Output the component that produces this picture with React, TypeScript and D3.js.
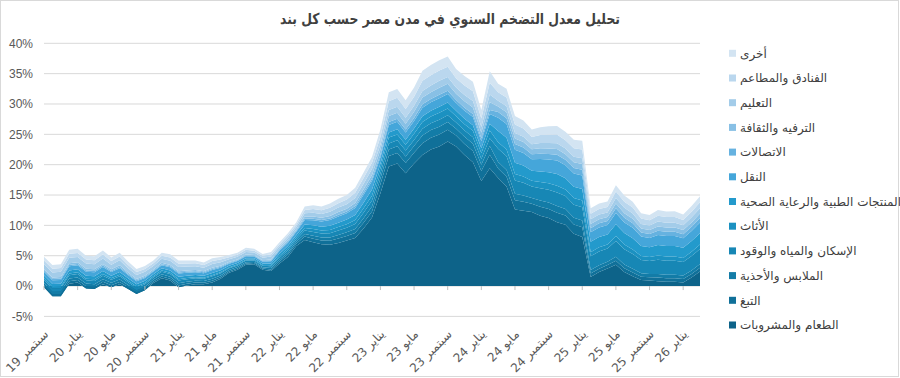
import React from "react";
import * as d3 from "d3";

// Sep 2019 .. Mar 2026, monthly contributions (percentage points)
const food = [-0.2,-1.7,-1.7,0.4,0.6,-0.4,-0.5,0.3,-0.2,0.3,
  -0.5,-1.3,-0.7,0.5,1.3,0.9,-0.2,0.1,0.3,0.3,
  0.6,1.2,2.2,2.7,3.5,3.6,2.7,2.5,3.7,4.8,
  6.6,7.6,7.2,6.9,6.8,7.1,7.5,7.9,9.5,11.3,
  15.3,19.7,20.2,18.6,20.2,21.6,22.5,23.0,23.8,23.0,
  21.6,20.4,17.3,19.4,17.8,16.4,12.6,12.4,12.2,11.6,
  11.2,10.5,10.1,8.6,8.1,1.5,2.3,2.9,3.5,2.3,
  1.6,1.0,0.9,0.8,0.7,0.7,0.6,1.4,2.4];
const tobacco = [.35,.36,.37,.39,.39,.38,.38,.39,.34,.36,
  .32,.29,.28,.26,.29,.30,.31,.29,.27,.25,
  .28,.25,.20,.20,.20,.18,.18,.22,.35,.39,
  .39,.55,.61,.62,.68,.73,.75,.83,.92,1.0,
  1.47,1.71,1.72,1.68,1.75,1.95,1.95,1.99,1.96,1.79,
  1.82,1.86,1.64,2.24,1.55,1.61,1.54,1.49,1.36,1.46,
  1.51,1.59,1.53,1.55,1.58,.57,.57,.55,.66,.63,
  .62,.55,.54,.59,.58,.58,.56,.59,.62];
const clothing = [.40,.42,.42,.45,.44,.43,.43,.45,.39,.42,
  .36,.33,.32,.30,.34,.34,.35,.33,.31,.29,
  .32,.29,.23,.22,.22,.20,.21,.25,.28,.31,
  .31,.44,.49,.50,.54,.58,.60,.66,.74,.8,
  .95,1.10,1.11,1.08,1.13,1.25,1.25,1.28,1.26,1.15,
  1.17,1.20,1.05,1.44,1.09,1.13,1.08,1.04,.95,1.02,
  1.06,1.11,1.07,1.09,1.11,.57,.57,.55,.66,.63,
  .62,.55,.54,.59,.58,.58,.56,.59,.62];
const housing = [.50,.52,.53,.56,.55,.54,.54,.56,.49,.52,
  .45,.41,.40,.37,.42,.43,.44,.41,.39,.36,
  .40,.36,.29,.28,.28,.25,.26,.31,.35,.39,
  .39,.55,.61,.62,.68,.73,.75,.83,.92,1.0,
  .84,.98,.98,.96,1.0,1.11,1.11,1.14,1.12,1.02,
  1.04,1.06,.94,1.28,2.17,2.25,2.16,2.09,1.90,2.04,
  2.11,2.23,2.14,2.17,2.21,2.26,2.26,2.20,2.62,2.52,
  2.46,2.20,2.16,2.34,2.32,2.32,2.24,2.36,2.48];
const furnishing = [.25,.26,.27,.28,.28,.27,.27,.28,.25,.26,
  .23,.21,.20,.19,.21,.22,.22,.21,.20,.18,
  .20,.18,.15,.14,.14,.13,.13,.16,.28,.31,
  .31,.44,.49,.50,.54,.58,.60,.66,.74,.8,
  .84,.98,.98,.96,1.0,1.11,1.11,1.14,1.12,1.02,
  1.04,1.06,.94,1.28,1.09,1.13,1.08,1.04,.95,1.02,
  1.06,1.11,1.07,1.09,1.11,.68,.68,.66,.79,.76,
  .74,.66,.65,.70,.70,.70,.67,.71,.74];
const health = [.45,.47,.48,.50,.50,.49,.49,.50,.44,.47,
  .41,.37,.36,.33,.38,.39,.40,.37,.35,.32,
  .36,.32,.26,.25,.25,.23,.23,.28,.35,.39,
  .39,.55,.61,.62,.68,.73,.75,.83,.92,1.0,
  .74,.85,.86,.84,.88,.97,.97,.99,.98,.90,
  .91,.93,.82,1.12,1.86,1.93,1.85,1.79,1.63,1.75,
  1.81,1.91,1.84,1.86,1.90,1.70,1.70,1.65,1.97,1.89,
  1.85,1.65,1.62,1.76,1.74,1.74,1.68,1.77,1.86];
const transport = [.60,.62,.64,.67,.66,.65,.65,.67,.59,.62,
  .54,.49,.48,.44,.50,.52,.53,.49,.47,.43,
  .48,.43,.35,.34,.34,.30,.31,.37,.49,.55,
  .55,.77,.85,.87,.95,1.02,1.05,1.16,1.29,1.4,
  1.05,1.22,1.23,1.20,1.25,1.39,1.39,1.42,1.40,1.28,
  1.30,1.33,1.17,1.60,2.17,2.25,2.16,2.09,1.90,2.04,
  2.11,2.23,2.14,2.17,2.21,1.58,1.58,1.54,1.83,1.76,
  1.72,1.54,1.51,1.64,1.62,1.62,1.57,1.65,1.74];
const communication = [.20,.21,.21,.22,.22,.22,.22,.22,.20,.21,
  .18,.16,.16,.15,.17,.17,.18,.16,.16,.14,
  .16,.14,.12,.11,.11,.10,.10,.12,.14,.16,
  .16,.22,.24,.25,.27,.29,.30,.33,.37,.4,
  .42,.49,.49,.48,.50,.56,.56,.57,.56,.51,
  .52,.53,.47,.64,.93,.97,.92,.89,.82,.88,
  .91,.95,.92,.93,.95,.68,.68,.66,.79,.76,
  .74,.66,.65,.70,.70,.70,.67,.71,.74];
const recreation = [.25,.26,.27,.28,.28,.27,.27,.28,.25,.26,
  .23,.21,.20,.19,.21,.22,.22,.21,.20,.18,
  .20,.18,.15,.14,.14,.13,.13,.16,.21,.23,
  .23,.33,.37,.37,.41,.44,.45,.50,.55,.6,
  .84,.98,.98,.96,1.0,1.11,1.11,1.14,1.12,1.02,
  1.04,1.06,.94,1.28,.93,.97,.92,.89,.82,.88,
  .91,.95,.92,.93,.95,.68,.68,.66,.79,.76,
  .74,.66,.65,.70,.70,.70,.67,.71,.74];
const education = [.80,.83,.85,.90,.88,.86,.86,.90,.78,.83,
  .72,.66,.64,.59,.67,.69,.70,.66,.62,.58,
  .64,.58,.46,.45,.45,.40,.42,.50,.35,.39,
  .39,.55,.61,.62,.68,.73,.75,.83,.92,1.0,
  .84,.98,.98,.96,1.0,1.11,1.11,1.14,1.12,1.02,
  1.04,1.06,.94,1.28,.93,.97,.92,.89,.82,.88,
  .91,.95,.92,.93,.95,.79,.79,.77,.92,.88,
  .86,.77,.76,.82,.81,.81,.78,.83,.87];
const hotels = [.60,.62,.64,.67,.66,.65,.65,.67,.59,.62,
  .54,.49,.48,.44,.50,.52,.53,.49,.47,.43,
  .48,.43,.35,.34,.34,.30,.31,.37,.35,.39,
  .39,.55,.61,.62,.68,.73,.75,.83,.92,1.0,
  1.26,1.46,1.48,1.44,1.5,1.67,1.67,1.70,1.68,1.54,
  1.56,1.60,1.40,1.92,1.40,1.45,1.39,1.34,1.22,1.31,
  1.36,1.43,1.38,1.40,1.42,.90,.90,.88,1.05,1.01,
  .98,.88,.86,.94,.93,.93,.90,.94,.99];
const other = [.62,.60,.63,.66,.68,.64,.66,.65,.60,.61,
  .55,.50,.47,.45,.49,.53,.52,.50,.46,.44,
  .47,.44,.36,.33,.35,.31,.30,.38,.36,.38,
  .40,.54,.62,.61,.69,.72,.76,.82,.93,.98,
  1.24,1.48,1.46,1.45,1.52,1.65,1.69,1.68,1.70,1.52,
  1.58,1.58,1.42,1.90,1.42,1.44,1.40,1.33,1.24,1.30,
  1.38,1.41,1.39,1.38,1.44,.92,.88,.90,1.03,1.02,
  .97,.89,.85,.95,.92,.94,.89,.95,.98];

const seriesNames = [
  "الطعام والمشروبات",
  "التبغ",
  "الملابس والأحذية",
  "الإسكان والمياه والوقود",
  "الأثاث",
  "المنتجات الطبية والرعاية الصحية",
  "النقل",
  "الاتصالات",
  "الترفيه والثقافة",
  "التعليم",
  "الفنادق والمطاعم",
  "أخرى",
];
const seriesValues = [food, tobacco, clothing, housing, furnishing, health, transport, communication, recreation, education, hotels, other];
const seriesColors = ["#0d6389", "#107099", "#137ca7", "#1787b5", "#1b91c1", "#239acc", "#45a6da", "#66b2e0", "#88c0e5", "#a3cce9", "#bad7ee", "#d3e4f2"];

const tickLabels = ["سبتمبر 19","يناير 20","مايو 20","سبتمبر 20","يناير 21","مايو 21","سبتمبر 21","يناير 22","مايو 22","سبتمبر 22","يناير 23","مايو 23","سبتمبر 23","يناير 24","مايو 24","سبتمبر 24","يناير 25","مايو 25","سبتمبر 25","يناير 26"];
const tickStep = 4;
const yTicks = [-5, 0, 5, 10, 15, 20, 25, 30, 35, 40];
const title = "تحليل معدل التضخم السنوي في مدن مصر حسب كل بند";

const AR_FONT = "'DejaVu Sans', sans-serif";
const NUM_FONT = "'Liberation Sans', Arial, sans-serif";

export default function App() {
  const n = food.length;
  const x = d3.scaleLinear().domain([0, n - 1]).range([44, 700]);
  const y = d3.scaleLinear().domain([-5, 40]).range([316.4, 43.3]);

  const rows = d3.range(n).map((i) => {
    const r: Record<string, number> = {};
    seriesNames.forEach((k, j) => (r[k] = seriesValues[j][i]));
    return r;
  });
  const stacked = d3.stack<Record<string, number>>().keys(seriesNames)(rows);
  const area = d3
    .area<any>()
    .x((_d, i) => x(i))
    .y0((d) => y(d[0]))
    .y1((d) => y(d[1]))
    .curve(d3.curveLinear);

  const legendItems = seriesNames.map((name, j) => ({ name, color: seriesColors[j] })).reverse();

  return (
    <div style={{ position: "absolute", left: 0, top: 0 }}>
      <style>{`body{margin:0}`}</style>
      <svg width={900} height={378} style={{ display: "block", background: "#fff" }}>
        <rect x={0.5} y={0.5} width={898} height={376} fill="#fff" stroke="#d9d9d9" />
        <text
          x={450}
          y={24}
          textAnchor="middle"
          fontFamily={AR_FONT}
          fontWeight="bold"
          fontSize={15}
          fill="#404040"
          textLength={340}
          lengthAdjust="spacingAndGlyphs"
        >
          {title}
        </text>
        {yTicks.map((t) => (
          <g key={t}>
            <line x1={44} x2={700} y1={y(t)} y2={y(t)} stroke="#d9d9d9" strokeWidth={1} />
            <text x={33} y={y(t)} dy="0.35em" textAnchor="end" fontFamily={NUM_FONT} fontSize={12} fill="#595959">
              {t}%
            </text>
          </g>
        ))}
        {stacked.map((s, j) => (
          <path key={s.key} d={area(s as any) || ""} fill={seriesColors[j]} />
        ))}
        {tickLabels.map((lab, k) => {
          const tx = x(k * tickStep);
          return (
            <g key={lab}>
              <line x1={tx} x2={tx} y1={y(0)} y2={y(0) + 4} stroke="#bfbfbf" />
              <text
                transform={`translate(${tx + 5},${335}) rotate(-45)`}
                textAnchor="end"
                fontFamily={AR_FONT}
                fontSize={12}
                fill="#595959"
              >
                {lab}
              </text>
            </g>
          );
        })}
        {legendItems.map((it, k) => {
          const ly = 53.3 + k * 24.7;
          return (
            <g key={it.name}>
              <rect x={729} y={ly - 3.5} width={7} height={7} fill={it.color} />
              <text x={740} y={ly} dy="0.35em" fontFamily={AR_FONT} fontSize={12} fill="#404040">
                {it.name}
              </text>
            </g>
          );
        })}
      </svg>
    </div>
  );
}
